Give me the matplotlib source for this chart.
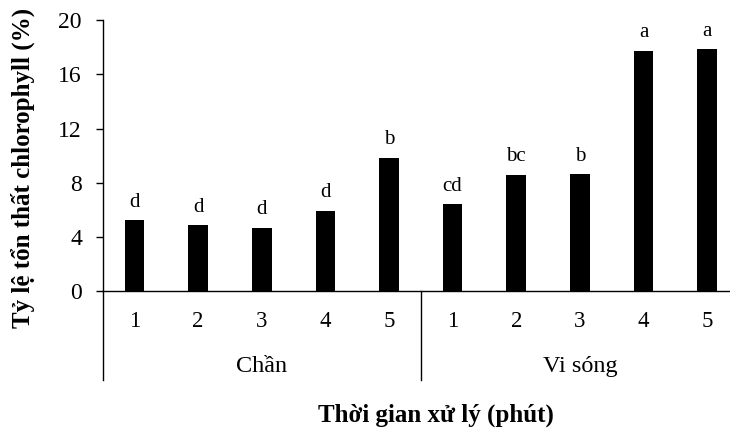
import matplotlib.pyplot as plt
import matplotlib.transforms as mtransforms

groups = ["Chần", "Vi sóng"]
times = ["1", "2", "3", "4", "5"]
loss = [5.25, 4.9, 4.7, 5.95, 9.85, 6.45, 8.6, 8.65, 17.75, 17.85]
letters = ["d", "d", "d", "d", "b", "cd", "bc", "b", "a", "a"]
yticks = [0, 4, 8, 12, 16, 20]

plt.rcParams["font.family"] = ["Liberation Serif", "DejaVu Serif"]

fig = plt.figure(figsize=(7.3, 4.34), dpi=100)
ax = fig.add_axes([0.1407, 0.3288, 0.8593, 0.6251])

x = list(range(len(loss)))
ax.bar(x, loss, width=0.31, color="black")

for xi, v, lab in zip(x, loss, letters):
    ax.annotate(lab, (xi, v), xytext=(0, 9.5), textcoords="offset points",
                ha="center", va="baseline", fontsize=15)

ax.set_xlim(-0.5, 9.36)
ax.set_ylim(0, 20)
ax.set_yticks(yticks)
ax.tick_params(axis="y", direction="out", length=5, width=1, labelsize=17, pad=10)
ax.set_xticks([])
for s in ["top", "right"]:
    ax.spines[s].set_visible(False)
ax.spines["left"].set_linewidth(1)
ax.spines["bottom"].set_linewidth(1)

trans = mtransforms.blended_transform_factory(ax.transData, ax.transAxes)
for i, xi in enumerate(x):
    ax.text(xi, -0.112, times[i % 5], transform=trans, ha="center", va="center",
            fontsize=16.5)
for g, name in enumerate(groups):
    ax.text(g * 5 + 2, -0.278, name, transform=trans, ha="center", va="center",
            fontsize=17.5)
for sep in [-0.5, 4.5]:
    ax.plot([sep, sep], [0, -0.327], transform=trans, color="black", lw=1,
            clip_on=False)

fig.text(23 / 730, 1 - 167.5 / 434, "Tỷ lệ tổn thất chlorophyll (%)", rotation=90,
         ha="center", va="center", fontsize=18, fontweight="bold")
fig.text(436 / 730, 1 - 415 / 434, "Thời gian xử lý (phút)", ha="center",
         va="center", fontsize=18, fontweight="bold")

fig.savefig("out.png", dpi=100)
